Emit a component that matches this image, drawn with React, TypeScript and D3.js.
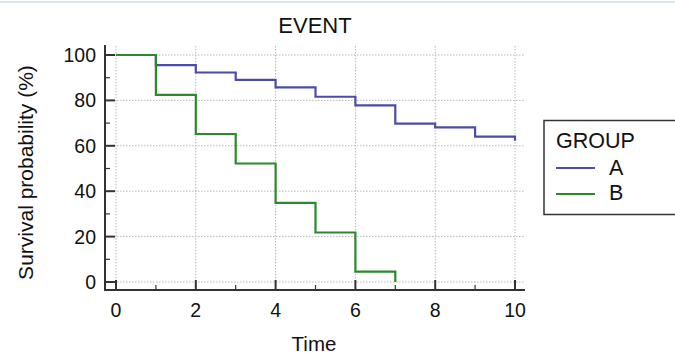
import React from "react";
import * as d3 from "d3";

// step times and survival (%)
const timesA = [0, 1, 2, 3, 4, 5, 6, 7, 8, 9, 10];
const survA = [100, 95.5, 92.3, 89, 85.7, 81.6, 77.8, 69.8, 68.1, 64, 62.2];
const timesB = [0, 1, 2, 3, 4, 5, 6, 7];
const survB = [100, 82.4, 65.2, 52.2, 34.9, 21.8, 4.6, 0];

const groups = ["A", "B"];
const groupColors = ["#4b4ba8", "#2a8a2a"];
const xTicks = [0, 2, 4, 6, 8, 10];
const yTicks = [0, 20, 40, 60, 80, 100];

const W = 675;
const H = 356;
const FONT = "'Liberation Sans', Arial, sans-serif";

const App = () => {
    const x = d3.scaleLinear().domain([0, 10]).range([116, 515]);
    const y = d3.scaleLinear().domain([0, 100]).range([282, 55]);

    const axisLeft = 105;
    const axisBottom = 290;
    const plotTop = 46;
    const plotRight = 524;

    const step = d3.line<[number, number]>()
        .x((d) => x(d[0]))
        .y((d) => y(d[1]))
        .curve(d3.curveStepAfter);

    const series = [
        timesA.map((t, i) => [t, survA[i]] as [number, number]),
        timesB.map((t, i) => [t, survB[i]] as [number, number]),
    ];

    const xMinor = d3.range(1, 10, 2);
    const yMinor = d3.range(10, 100, 20);

    return (
        <svg width={W} height={H} style={{ position: "absolute", left: 0, top: 0 }} fontFamily={FONT}>
            <rect width={W} height={H} fill="#fff" />
            <line x1={0} x2={W} y1={2} y2={2} stroke="#dce4ee" strokeWidth={2} />

            <text x={315} y={33} textAnchor="middle" fontSize={22} fill="#111">EVENT</text>

            {/* grid */}
            <g stroke="#b8b8b8" strokeWidth={1} strokeDasharray="1.5,1.5">
                {xTicks.map((t) => (
                    <line key={"gx" + t} x1={x(t)} x2={x(t)} y1={plotTop} y2={axisBottom} />
                ))}
                {yTicks.map((t) => (
                    <line key={"gy" + t} x1={axisLeft} x2={plotRight} y1={y(t)} y2={y(t)} />
                ))}
            </g>

            {/* series */}
            {series.map((s, i) => (
                <path key={groups[i]} d={step(s) || ""} fill="none" stroke={groupColors[i]} strokeWidth={2.2} />
            ))}

            {/* axes */}
            <g stroke="#333" strokeWidth={2}>
                <line x1={axisLeft} x2={axisLeft} y1={45} y2={axisBottom + 1} />
                <line x1={axisLeft - 1} x2={plotRight + 1} y1={axisBottom} y2={axisBottom} />
                {yTicks.map((t) => (
                    <line key={"ty" + t} x1={axisLeft} x2={axisLeft + 10} y1={y(t)} y2={y(t)} />
                ))}
                {yMinor.map((t) => (
                    <line key={"my" + t} x1={axisLeft} x2={axisLeft + 5} y1={y(t)} y2={y(t)} strokeWidth={1.2} />
                ))}
                {xTicks.map((t) => (
                    <line key={"tx" + t} x1={x(t)} x2={x(t)} y1={axisBottom} y2={axisBottom - 10} />
                ))}
                {xMinor.map((t) => (
                    <line key={"mx" + t} x1={x(t)} x2={x(t)} y1={axisBottom} y2={axisBottom - 5} strokeWidth={1.2} />
                ))}
            </g>

            {/* tick labels */}
            <g fontSize={19.5} fill="#111">
                {yTicks.map((t) => (
                    <text key={"ly" + t} x={96} y={y(t) + 7} textAnchor="end">{t}</text>
                ))}
                {xTicks.map((t) => (
                    <text key={"lx" + t} x={x(t)} y={317} textAnchor="middle">{t}</text>
                ))}
            </g>

            <text x={314} y={351} textAnchor="middle" fontSize={20.5} fill="#111">Time</text>
            <text
                transform={`translate(33,${(y(0) + y(100)) / 2 + 4}) rotate(-90)`}
                textAnchor="middle"
                fontSize={21}
                fill="#111"
            >
                Survival probability (%)
            </text>

            {/* legend */}
            <rect x={544} y={120.5} width={140} height={94} fill="#fff" stroke="#333" strokeWidth={1.5} />
            <text x={556} y={148} fontSize={21.5} fill="#111">GROUP</text>
            {groups.map((g, i) => (
                <g key={"lg" + g}>
                    <line x1={556} x2={595} y1={168 + i * 26} y2={168 + i * 26} stroke={groupColors[i]} strokeWidth={2} />
                    <text x={609} y={175 + i * 25} fontSize={21.5} fill="#111">{g}</text>
                </g>
            ))}
        </svg>
    );
};

export default App;
